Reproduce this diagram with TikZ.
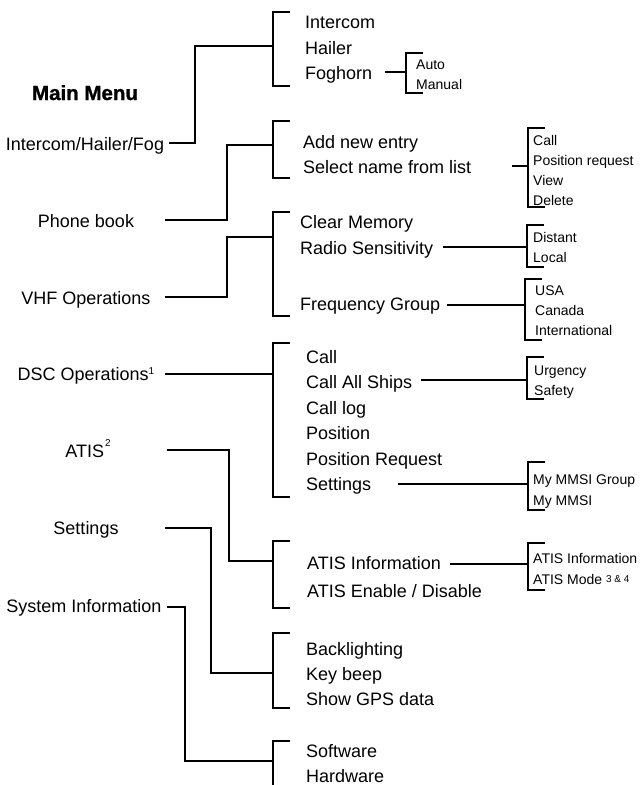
\documentclass[tikz,border=0pt]{standalone}
\usepackage{fontspec}
\setmainfont{Liberation Sans}
\newfontfamily\heavyfont[FakeBold=1.2]{Liberation Sans Bold}
\newcommand\mainsz{\fontsize{18}{20}\selectfont}
\newcommand\smallsz{\fontsize{14}{16}\selectfont}
\newcommand\supsz{\fontsize{10}{10}\selectfont}
\tikzset{
  mainitem/.style={font=\mainsz, inner sep=0pt, anchor=base},
  subitem/.style={font=\mainsz, inner sep=0pt, anchor=base west},
  smallitem/.style={font=\smallsz, inner sep=0pt, anchor=base west},
  conn/.style={line width=1.2pt, line cap=rect},
  brk/.style={line width=1.2pt},
}
\newcommand\bracketat[4]{% name, x, ytop, ybot ; tick length 17
  \coordinate (#1t) at (#2,#3);
  \coordinate (#1b) at (#2,#4);
  \draw[brk] ([xshift=17pt]#1t) -- (#1t) -- (#1b) -- ([xshift=17pt]#1b);
}
\begin{document}
\begin{tikzpicture}[x=1pt,y=-1pt]
\useasboundingbox (0,0) rectangle (642,785);

% Title
\node[inner sep=0pt, anchor=base, font=\fontsize{20.5}{22}\selectfont\heavyfont] (title) at (85,100) {Main Menu};

% Main items
\node[mainitem] (m1) at (85,150) {Intercom/Hailer/Fog};
\node[mainitem] (m2) at (86,227) {Phone book};
\node[mainitem] (m3) at (86,304) {VHF Operations};
\node[mainitem] (m4) at (86,380) {DSC Operations\raisebox{6pt}{\supsz 1}};
\node[mainitem] (m5) at (88,457) {ATIS\hspace{1pt}\raisebox{11pt}{\supsz 2}};
\node[mainitem] (m6) at (86,534) {Settings};
\node[mainitem] (m7) at (84,612) {System Information};

% Level-2 brackets
\bracketat{B1}{273}{12}{86}
\bracketat{B2}{273}{121}{178}
\bracketat{B3}{273}{212}{316}
\bracketat{B4}{273}{343}{497}
\bracketat{B5}{273}{541}{608}
\bracketat{B6}{273}{633}{708}
\coordinate (B7t) at (273,741);
\coordinate (B7b) at (273,786);
\draw[brk] ([xshift=17pt]B7t) -- (B7t) -- (B7b);

% Main connectors
\coordinate (o1) at (170,143); \coordinate (j1) at (273,46);
\draw[conn] (o1) -- ++(25,0) |- (j1);
\coordinate (o2) at (166,220); \coordinate (j2) at (273,145);
\draw[conn] (o2) -- ++(61,0) |- (j2);
\coordinate (o3) at (166,297); \coordinate (j3) at (273,237);
\draw[conn] (o3) -- ++(61,0) |- (j3);
\coordinate (o4) at (166,374); \coordinate (j4) at (273,374);
\draw[conn] (o4) -- (j4);
\coordinate (o5) at (168,450); \coordinate (j5) at (273,561);
\draw[conn] (o5) -- ++(61,0) |- (j5);
\coordinate (o6) at (166,528); \coordinate (j6) at (273,673);
\draw[conn] (o6) -- ++(45,0) |- (j6);
\coordinate (o7) at (168,607); \coordinate (j7) at (273,761);
\draw[conn] (o7) -- ++(17,0) |- (j7);

% Level-2 items
\node[subitem] (s11) at (305,28) {Intercom};
\node[subitem] (s12) at (305,54) {Hailer};
\node[subitem] (s13) at (305,79) {Foghorn};

\node[subitem] (s21) at (303,148) {Add new entry};
\node[subitem] (s22) at (303,173) {Select name from list};

\node[subitem] (s31) at (300,228) {Clear Memory};
\node[subitem] (s32) at (300,254) {Radio Sensitivity};
\node[subitem] (s33) at (300,310) {Frequency Group};

\node[subitem] (s41) at (306,363) {Call};
\node[subitem] (s42) at (306,388.5) {Call All Ships};
\node[subitem] (s43) at (306,414) {Call log};
\node[subitem] (s44) at (306,439.5) {Position};
\node[subitem] (s45) at (306,465) {Position Request};
\node[subitem] (s46) at (306,490.5) {Settings};

\node[subitem] (s51) at (307,569) {ATIS Information};
\node[subitem] (s52) at (307,597) {ATIS Enable / Disable};

\node[subitem] (s61) at (306,655) {Backlighting};
\node[subitem] (s62) at (306,680) {Key beep};
\node[subitem] (s63) at (306,705) {Show GPS data};

\node[subitem] (s71) at (306,757) {Software};
\node[subitem] (s72) at (306,782) {Hardware};

% Level-3 brackets and connectors
\bracketat{C1}{406}{53}{93}
\coordinate (p1) at (386,72); \draw[conn] (p1) -- (C1t |- p1);
\node[smallitem] (t11) at (416,69) {Auto};
\node[smallitem] (t12) at (416,89) {Manual};

\bracketat{C2}{528}{128}{207}
\coordinate (p2) at (513,166); \draw[conn] (p2) -- (C2t |- p2);
\node[smallitem] (t21) at (533,145) {Call};
\node[smallitem] (t22) at (533,165) {Position request};
\node[smallitem] (t23) at (533,185) {View};
\node[smallitem] (t24) at (533,205) {Delete};

\bracketat{C3}{527}{225}{267}
\coordinate (p3) at (444,247); \draw[conn] (p3) -- (C3t |- p3);
\node[smallitem] (t31) at (533,242) {Distant};
\node[smallitem] (t32) at (533,262) {Local};

\bracketat{C4}{525}{279}{340}
\coordinate (p4) at (448,305); \draw[conn] (p4) -- (C4t |- p4);
\node[smallitem] (t41) at (535,295) {USA};
\node[smallitem] (t42) at (535,315) {Canada};
\node[smallitem] (t43) at (535,335) {International};

\bracketat{C5}{527}{357}{399}
\coordinate (p5) at (422,380); \draw[conn] (p5) -- (C5t |- p5);
\node[smallitem] (t51) at (534,375) {Urgency};
\node[smallitem] (t52) at (534,395) {Safety};

\bracketat{C6}{528}{462}{510}
\coordinate (p6) at (399,484); \draw[conn] (p6) -- (C6t |- p6);
\node[smallitem] (t61) at (533,484) {My MMSI Group};
\node[smallitem] (t62) at (533,505) {My MMSI};

\bracketat{C7}{528}{543}{590}
\coordinate (p7) at (451,564); \draw[conn] (p7) -- (C7t |- p7);
\node[smallitem] (t71) at (533,563) {ATIS Information};
\node[smallitem] (t72) at (533,584) {ATIS Mode \raisebox{2pt}{\supsz 3 \& 4}};

\end{tikzpicture}
\end{document}
